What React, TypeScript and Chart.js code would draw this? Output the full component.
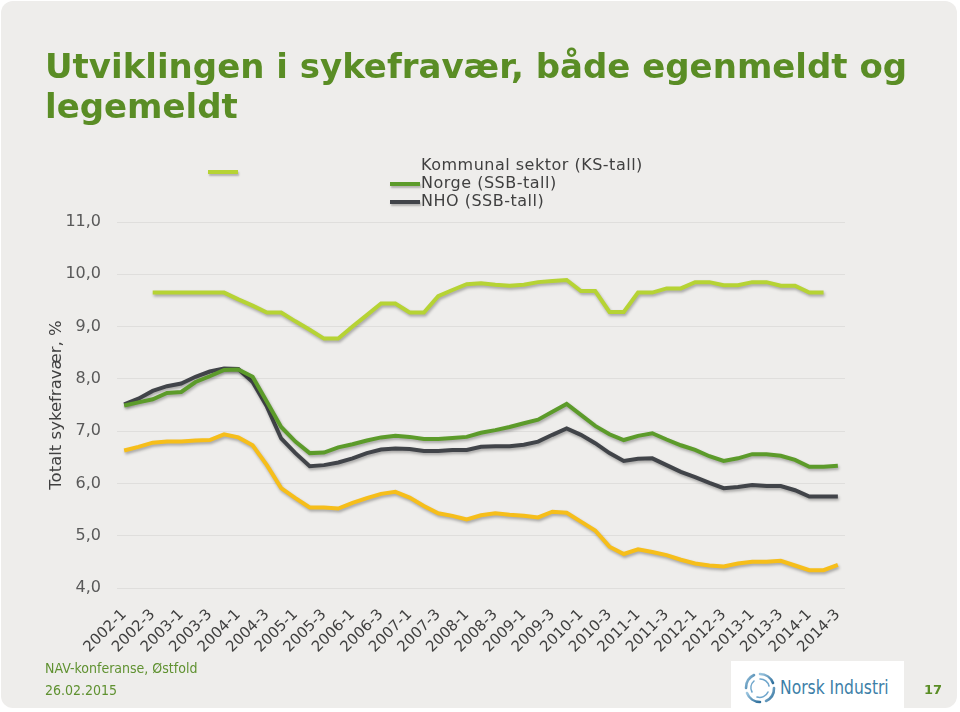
import React, { useEffect, useRef } from "react";
import { Chart, registerables } from "chart.js";

Chart.register(...registerables);

const categories = [
  "2002-1", "2002-2", "2002-3", "2002-4",
  "2003-1", "2003-2", "2003-3", "2003-4",
  "2004-1", "2004-2", "2004-3", "2004-4",
  "2005-1", "2005-2", "2005-3", "2005-4",
  "2006-1", "2006-2", "2006-3", "2006-4",
  "2007-1", "2007-2", "2007-3", "2007-4",
  "2008-1", "2008-2", "2008-3", "2008-4",
  "2009-1", "2009-2", "2009-3", "2009-4",
  "2010-1", "2010-2", "2010-3", "2010-4",
  "2011-1", "2011-2", "2011-3", "2011-4",
  "2012-1", "2012-2", "2012-3", "2012-4",
  "2013-1", "2013-2", "2013-3", "2013-4",
  "2014-1", "2014-2", "2014-3",
];

const kommunal = [
  null, null, 9.65, 9.65, 9.65, 9.65, 9.65, 9.65, 9.52, 9.40,
  9.27, 9.27, 9.10, 8.94, 8.77, 8.77, 9.00, 9.22, 9.44, 9.44,
  9.27, 9.27, 9.58, 9.70, 9.81, 9.83, 9.80, 9.78, 9.80, 9.85,
  9.87, 9.89, 9.68, 9.68, 9.28, 9.28, 9.65, 9.65, 9.73, 9.73,
  9.85, 9.85, 9.79, 9.79, 9.85, 9.85, 9.78, 9.78, 9.65, 9.65,
  null,
];

const gul = [
  6.63, 6.70, 6.78, 6.80, 6.80, 6.82, 6.83, 6.94, 6.88, 6.73,
  6.35, 5.91, 5.72, 5.54, 5.54, 5.52, 5.63, 5.72, 5.80, 5.84,
  5.73, 5.57, 5.43, 5.38, 5.31, 5.39, 5.43, 5.40, 5.38, 5.35,
  5.46, 5.44, 5.27, 5.10, 4.79, 4.65, 4.74, 4.69, 4.63, 4.54,
  4.47, 4.43, 4.41, 4.47, 4.50, 4.50, 4.52, 4.43, 4.34, 4.34,
  4.44,
];

const norge = [
  7.49, 7.55, 7.61, 7.73, 7.75, 7.94, 8.05, 8.17, 8.18, 8.04,
  7.56, 7.08, 6.80, 6.58, 6.59, 6.69, 6.75, 6.82, 6.88, 6.91,
  6.89, 6.85, 6.85, 6.87, 6.89, 6.97, 7.02, 7.08, 7.15, 7.22,
  7.37, 7.52, 7.31, 7.10, 6.94, 6.83, 6.91, 6.96, 6.84, 6.73,
  6.64, 6.52, 6.43, 6.48, 6.56, 6.56, 6.53, 6.45, 6.32, 6.32,
  6.34,
];

const nho = [
  7.51, 7.62, 7.77, 7.86, 7.91, 8.04, 8.14, 8.20, 8.19, 7.94,
  7.47, 6.86, 6.58, 6.33, 6.35, 6.40, 6.48, 6.58, 6.65, 6.67,
  6.66, 6.62, 6.62, 6.64, 6.64, 6.70, 6.71, 6.71, 6.74, 6.80,
  6.93, 7.05, 6.93, 6.77, 6.58, 6.43, 6.47, 6.48, 6.35, 6.22,
  6.12, 6.01, 5.91, 5.93, 5.97, 5.95, 5.95, 5.87, 5.75, 5.75,
  5.75,
];

const yMin = 4;
const yMax = 11;

const C_KS = "#b6d334";
const C_GUL = "#f6be1a";
const C_NORGE = "#5c9b2a";
const C_NHO = "#414449";
const C_TITLE = "#5a8d25";

const shadowPlugin = {
  id: "lineShadow",
  beforeDatasetDraw(chart: any) {
    const ctx = chart.ctx;
    ctx.save();
    ctx.shadowColor = "rgba(0,0,0,0.30)";
    ctx.shadowBlur = 3;
    ctx.shadowOffsetX = 1;
    ctx.shadowOffsetY = 2;
  },
  afterDatasetDraw(chart: any) {
    chart.ctx.restore();
  },
};

function NorskIcon() {
  return (
    <svg width="32" height="32" viewBox="0 0 32 32">
      <defs>
        <linearGradient id="ni" x1="0" y1="0" x2="1" y2="1">
          <stop offset="0" stopColor="#9cc6e0" />
          <stop offset="1" stopColor="#2f6f9c" />
        </linearGradient>
      </defs>
      <g fill="none" stroke="url(#ni)" strokeWidth="2.6" strokeLinecap="round">
        <path d="M16 2 A14 14 0 0 1 29 11" />
        <path d="M30 16 A14 14 0 0 1 22 29" />
        <path d="M16 30 A14 14 0 0 1 3 21" />
        <path d="M2 16 A14 14 0 0 1 10 3" />
      </g>
      <g fill="none" stroke="#6fa6cc" strokeWidth="1.6" strokeLinecap="round">
        <path d="M16 7 A9 9 0 0 1 25 14" />
        <path d="M24 20 A9 9 0 0 1 13 25" />
        <path d="M8 20 A9 9 0 0 1 10 9" />
      </g>
    </svg>
  );
}

export default function App() {
  const canvasRef = useRef<HTMLCanvasElement | null>(null);

  useEffect(() => {
    const canvas = canvasRef.current;
    if (!canvas) return;
    const chart = new Chart(canvas, {
      type: "line",
      data: {
        labels: categories,
        datasets: [
          {
            label: "Kommunal sektor (KS-tall)",
            data: kommunal,
            borderColor: C_KS,
            backgroundColor: C_KS,
            borderWidth: 4,
            pointRadius: 0,
            tension: 0,
            spanGaps: false,
          },
          {
            label: "",
            data: gul,
            borderColor: C_GUL,
            backgroundColor: C_GUL,
            borderWidth: 4,
            pointRadius: 0,
            tension: 0,
          },
          {
            label: "Norge (SSB-tall)",
            data: norge,
            borderColor: C_NORGE,
            backgroundColor: C_NORGE,
            borderWidth: 4,
            pointRadius: 0,
            tension: 0,
          },
          {
            label: "NHO (SSB-tall)",
            data: nho,
            borderColor: C_NHO,
            backgroundColor: C_NHO,
            borderWidth: 4,
            pointRadius: 0,
            tension: 0,
          },
        ],
      },
      options: {
        responsive: false,
        animation: false,
        devicePixelRatio: 1,
        layout: { padding: { top: 222, right: 115, bottom: 0, left: 0 } },
        plugins: {
          legend: { display: false },
          tooltip: { enabled: false },
        },
        scales: {
          x: {
            offset: true,
            grid: { display: false, drawTicks: false },
            border: { display: false },
            ticks: {
              autoSkip: false,
              maxRotation: 45,
              minRotation: 45,
              padding: 18,
              color: "#404040",
              font: { family: "'DejaVu Sans', Verdana, sans-serif", size: 15 },
              callback: function (_v: any, i: number) {
                return i % 2 === 0 ? categories[i] : "";
              },
            },
            afterFit: (scale: any) => {
              scale.height = 124;
            },
          },
          y: {
            min: yMin,
            max: yMax,
            grid: { color: "#dfdedc", lineWidth: 1, drawTicks: false },
            border: { display: false },
            ticks: {
              stepSize: 1,
              padding: 16,
              color: "#595959",
              font: { family: "'DejaVu Sans', Verdana, sans-serif", size: 16 },
              callback: (v: any) => Number(v).toFixed(1).replace(".", ","),
            },
            title: {
              display: true,
              text: "Totalt sykefravær, %",
              color: "#404040",
              font: { family: "'DejaVu Sans', Verdana, sans-serif", size: 16.5 },
              padding: { top: 47, bottom: 0 },
            },
            afterFit: (scale: any) => {
              scale.width = 117;
            },
          },
        },
      },
      plugins: [shadowPlugin],
    });
    return () => chart.destroy();
  }, []);

  const legendText: React.CSSProperties = {
    position: "absolute",
    left: 421,
    fontFamily: "'DejaVu Sans', Verdana, sans-serif",
    fontSize: 16,
    letterSpacing: "0.5px",
    color: "#404040",
    lineHeight: "18px",
    whiteSpace: "nowrap",
  };
  const marker = (left: number, top: number, w: number, color: string): React.CSSProperties => ({
    position: "absolute",
    left,
    top,
    width: w,
    height: 4,
    background: color,
    boxShadow: "1px 2px 2px rgba(0,0,0,0.25)",
  });

  return (
    <div
      style={{
        position: "fixed",
        left: 0,
        top: 0,
        width: 960,
        height: 712,
        background: "#ffffff",
        overflow: "hidden",
      }}
    >
      <div
        style={{
          position: "absolute",
          left: 1,
          top: 1,
          width: 956,
          height: 707,
          borderRadius: 12,
          background: "#eeedeb",
        }}
      />
      <canvas
        ref={canvasRef}
        width={960}
        height={712}
        style={{ position: "absolute", left: 0, top: 0, width: 960, height: 712 }}
      />
      <div
        style={{
          position: "absolute",
          left: 45,
          top: 46,
          fontFamily: "'DejaVu Sans', Verdana, sans-serif",
          fontWeight: "bold",
          fontSize: 34,
          lineHeight: "40px",
          color: C_TITLE,
          whiteSpace: "nowrap",
        }}
      >
        Utviklingen i sykefravær, både egenmeldt og
        <br />
        legemeldt
      </div>

      <div style={marker(208, 170, 30, C_KS)} />
      <div style={{ ...legendText, top: 156 }}>Kommunal sektor (KS-tall)</div>
      <div style={marker(390, 182, 30, C_NORGE)} />
      <div style={{ ...legendText, top: 174 }}>Norge (SSB-tall)</div>
      <div style={marker(390, 200, 30, C_NHO)} />
      <div style={{ ...legendText, top: 192 }}>NHO (SSB-tall)</div>

      <div
        style={{
          position: "absolute",
          left: 45,
          top: 659,
          fontFamily: "'DejaVu Sans Condensed', 'DejaVu Sans', sans-serif",
          fontSize: 14,
          lineHeight: "18px",
          color: "#5f9130",
          whiteSpace: "nowrap",
        }}
      >
        NAV-konferanse, Østfold
      </div>
      <div
        style={{
          position: "absolute",
          left: 45,
          top: 681,
          fontFamily: "'DejaVu Sans Condensed', 'DejaVu Sans', sans-serif",
          fontSize: 14,
          lineHeight: "18px",
          color: "#5f9130",
          whiteSpace: "nowrap",
        }}
      >
        26.02.2015
      </div>

      <div
        style={{
          position: "absolute",
          left: 731,
          top: 661,
          width: 173,
          height: 49,
          background: "#ffffff",
        }}
      >
        <div style={{ position: "absolute", left: 13, top: 11 }}>
          <NorskIcon />
        </div>
        <div
          style={{
            position: "absolute",
            left: 49,
            top: 14,
            fontFamily: "'Liberation Sans Narrow', 'DejaVu Sans Condensed', sans-serif",
            fontSize: 19,
            lineHeight: "24px",
            color: "#3d7fa8",
            whiteSpace: "nowrap",
            transform: "scaleX(0.91)",
            transformOrigin: "left center",
          }}
        >
          Norsk Industri
        </div>
      </div>
      <div
        style={{
          position: "absolute",
          left: 924,
          top: 681,
          fontFamily: "'DejaVu Sans', Verdana, sans-serif",
          fontWeight: "bold",
          fontSize: 13,
          lineHeight: "18px",
          color: C_TITLE,
        }}
      >
        17
      </div>
    </div>
  );
}
